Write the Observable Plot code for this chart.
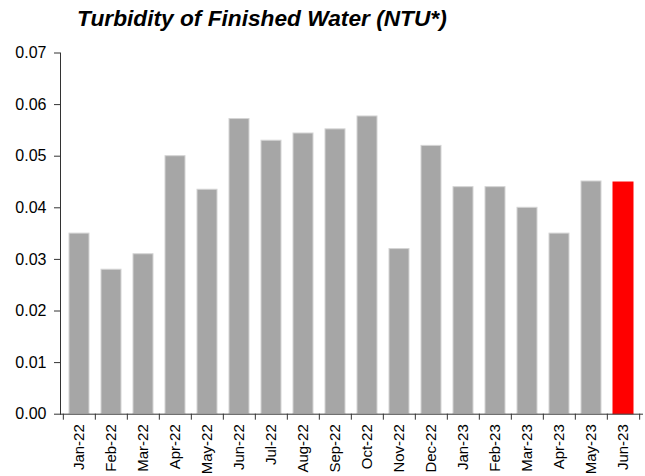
<!DOCTYPE html>
<html>
<head>
<meta charset="utf-8">
<script src="https://cdn.jsdelivr.net/npm/d3@7"></script>
<script src="https://cdn.jsdelivr.net/npm/@observablehq/plot@0.6"></script>
<style>
  html, body { margin: 0; padding: 0; background: #fff; }
  #wrap { position: relative; width: 645px; height: 476px; overflow: hidden; }
  #title { position: absolute; left: 77px; top: 7px; font: italic bold 22.7px "Liberation Sans", Arial, sans-serif; line-height: 23px; white-space: nowrap; color: #000; }
  #chart { position: absolute; left: 0; top: 0; }
</style>
</head>
<body>
<div id="wrap">
  <div id="chart"></div>
  <div id="title">Turbidity of Finished Water (NTU*)</div>
</div>
<script>
const months = ["Jan-22","Feb-22","Mar-22","Apr-22","May-22","Jun-22","Jul-22","Aug-22","Sep-22","Oct-22","Nov-22","Dec-22","Jan-23","Feb-23","Mar-23","Apr-23","May-23","Jun-23"];
const turbidity = [0.035,0.028,0.031,0.050,0.0435,0.0572,0.053,0.0544,0.0552,0.0577,0.032,0.052,0.044,0.044,0.040,0.035,0.0451,0.0449];
const highlightMonth = "Jun-23";
const yTicks = [0,0.01,0.02,0.03,0.04,0.05,0.06,0.07];

const data = months.map((m, i) => ({month: m, value: turbidity[i], hi: m === highlightMonth}));

const W = 645, H = 476;
const mL = 60, mR = 3, mT = 52.5, mB = 62.3;
const step = (W - mL - mR) / months.length;

const plot = Plot.plot({
  width: W,
  height: H,
  marginLeft: mL,
  marginRight: mR,
  marginTop: mT,
  marginBottom: mB,
  style: {fontFamily: "'Liberation Sans', Arial, sans-serif", fontSize: "16px", color: "#000", background: "#fff", overflow: "visible"},
  x: {domain: months, paddingInner: 0.37, paddingOuter: 0.185},
  y: {domain: [0, 0.07]},
  marks: [
    Plot.barY(data, {x: "month", y: "value", fill: d => d.hi ? "#FF0000" : "#A6A6A6", stroke: d => d.hi ? "#FF0000" : "#D4D4D4", strokeWidth: 1}),
    Plot.frame({anchor: "left", stroke: "#333"}),
    Plot.frame({anchor: "bottom", stroke: "#333"}),
    Plot.axisY({ticks: yTicks, tickFormat: d3.format(".2f"), tickSize: 6, tickPadding: 8, stroke: "#333", label: null, fill: "#000", fontSize: 16}),
    Plot.axisX({tickSize: 6, tickFormat: () => "", dx: -step / 2, stroke: "#333", label: null}),
    Plot.axisX({ticks: [months[months.length - 1]], tickSize: 6, tickFormat: () => "", dx: step / 2, stroke: "#333", label: null}),
    Plot.axisX({tickSize: 0, tickPadding: 10, tickRotate: -90, label: null, fill: "#000", fontSize: 15})
  ]
});
document.getElementById("chart").appendChild(plot);
</script>
</body>
</html>
